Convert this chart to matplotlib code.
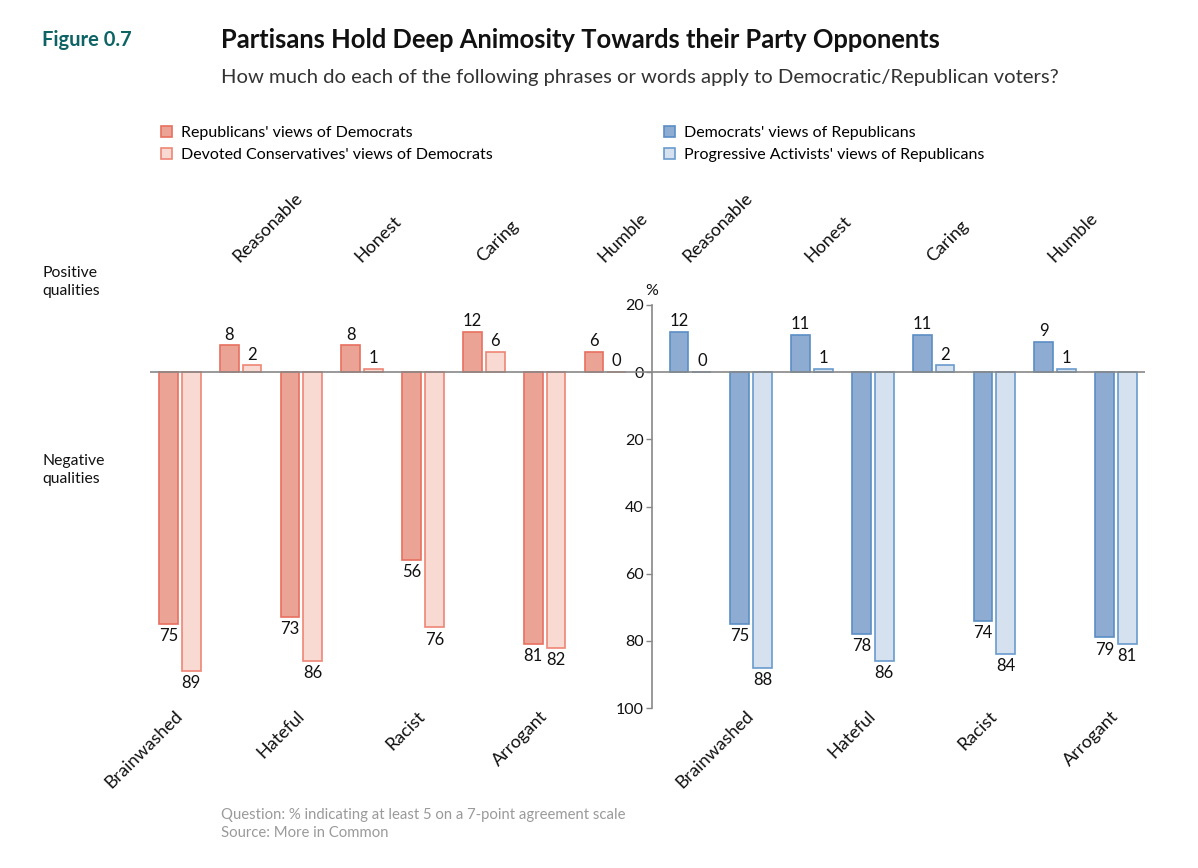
import matplotlib
matplotlib.use("Agg")
import matplotlib.pyplot as plt
from matplotlib.patches import Patch
from matplotlib.transforms import blended_transform_factory

plt.rcParams['font.family'] = ['Lato', 'DejaVu Sans']

# ---------------- data ----------------
positive_qualities = ["Reasonable", "Honest", "Caring", "Humble"]

left_categories = ["Brainwashed", "Reasonable", "Hateful", "Honest",
                   "Racist", "Caring", "Arrogant", "Humble"]
rep_views_of_dems = [75, 8, 73, 8, 56, 12, 81, 6]
devcons_views_of_dems = [89, 2, 86, 1, 76, 6, 82, 0]

right_categories = ["Reasonable", "Brainwashed", "Honest", "Hateful",
                    "Caring", "Racist", "Humble", "Arrogant"]
dem_views_of_reps = [12, 75, 11, 78, 11, 74, 9, 79]
progact_views_of_reps = [0, 88, 1, 86, 2, 84, 1, 81]

y_ticks = [20, 0, -20, -40, -60, -80, -100]
y_tick_labels = ["20", "0", "20", "40", "60", "80", "100"]

legend_left = ["Republicans' views of Democrats",
               "Devoted Conservatives' views of Democrats"]
legend_right = ["Democrats' views of Republicans",
                "Progressive Activists' views of Republicans"]

# ---------------- style ----------------
RED_DARK, RED_DARK_EDGE = "#EBA396", "#E8705F"
RED_LIGHT, RED_LIGHT_EDGE = "#F8DAD3", "#EE8575"
BLUE_DARK, BLUE_DARK_EDGE = "#8EACD1", "#5B8EC4"
BLUE_LIGHT, BLUE_LIGHT_EDGE = "#D6E1F0", "#6A9BCD"
TEAL = "#0E6465"
GRAY = "#888888"

W, H = 1198, 868
fig = plt.figure(figsize=(W / 100, H / 100), dpi=100)


def fx(px):
    return px / W


def fy(py):
    return 1 - py / H


ax_left, ax_right, ax_top, ax_bot = 150, 1145, 305, 708
ax = fig.add_axes([fx(ax_left), fy(ax_bot), fx(ax_right - ax_left), (ax_bot - ax_top) / H])

BW = 0.31      # bar width
OFF = 0.375    # offset of second bar
RIGHT_START = 8.4
AXIS_X = 8.11


def signed(cats, vals):
    return [v if c in positive_qualities else -v for c, v in zip(cats, vals)]


groups = [
    (0.0, left_categories, rep_views_of_dems, devcons_views_of_dems,
     (RED_DARK, RED_DARK_EDGE), (RED_LIGHT, RED_LIGHT_EDGE)),
    (RIGHT_START, right_categories, dem_views_of_reps, progact_views_of_reps,
     (BLUE_DARK, BLUE_DARK_EDGE), (BLUE_LIGHT, BLUE_LIGHT_EDGE)),
]

tr_top = blended_transform_factory(ax.transData, ax.transAxes)

for start, cats, v1, v2, c1, c2 in groups:
    xs = [start + i for i in range(len(cats))]
    s1 = signed(cats, v1)
    s2 = signed(cats, v2)
    x1 = [x + BW / 2 for x in xs]
    x2 = [x + OFF + BW / 2 for x in xs]
    ax.bar(x1, s1, width=BW, color=c1[0], edgecolor=c1[1], linewidth=1.2, zorder=3)
    ax.bar(x2, s2, width=BW, color=c2[0], edgecolor=c2[1], linewidth=1.2, zorder=3)
    for xx, ss, vv in list(zip(x1, s1, v1)) + list(zip(x2, s2, v2)):
        if ss >= 0:
            ax.annotate(str(vv), (xx, ss), xytext=(0, 2), textcoords="offset points",
                        ha="center", va="bottom", fontsize=12, color="#111111")
        else:
            ax.annotate(str(vv), (xx, ss), xytext=(0, -3), textcoords="offset points",
                        ha="center", va="top", fontsize=12, color="#111111")
    for x, c in zip(xs, cats):
        if c in positive_qualities:
            ax.text(x + 0.36, 1.10, c, transform=tr_top, rotation=45,
                    rotation_mode="anchor", ha="left", va="bottom",
                    fontsize=13, color="#111111", clip_on=False)
        else:
            ax.text(x + 0.25, 0.0, c, transform=tr_top, rotation=45,
                    rotation_mode="anchor", ha="right", va="top",
                    fontsize=13, color="#111111", clip_on=False)

ax.axhline(0, color=GRAY, lw=1.2, zorder=4)
ax.set_xlim(-0.148, 16.22)
ax.set_ylim(-100, 20)

for s in ["top", "right", "bottom"]:
    ax.spines[s].set_visible(False)
ax.spines["left"].set_position(("data", AXIS_X))
ax.spines["left"].set_color(GRAY)
ax.spines["left"].set_linewidth(1.2)
ax.set_xticks([])
ax.set_yticks(y_ticks)
ax.set_yticklabels(y_tick_labels)
ax.tick_params(axis="y", length=4, width=1.0, color=GRAY, labelsize=11.5, pad=2,
               labelcolor="#111111")
ax.annotate("%", (AXIS_X, 20), xytext=(0, 5), textcoords="offset points",
            ha="center", va="bottom", fontsize=11.5, color="#111111",
            annotation_clip=False)
ax.patch.set_alpha(0)

# ---------------- texts ----------------
fig.text(fx(42), fy(40), "Figure 0.7", fontsize=14.5, fontweight="bold",
         color=TEAL, va="center", ha="left")
fig.text(fx(221), fy(40), "Partisans Hold Deep Animosity Towards their Party Opponents",
         fontsize=18.4, fontweight="bold", color="#111111", va="center", ha="left")
fig.text(fx(221), fy(77), "How much do each of the following phrases or words apply to "
         "Democratic/Republican voters?", fontsize=14.6,
         color="#333333", va="center", ha="left")

fig.text(fx(42), fy(282), "Positive\nqualities", fontsize=11.3, color="#111111",
         va="center", ha="left", linespacing=1.35)
fig.text(fx(42), fy(470), "Negative\nqualities", fontsize=11.3, color="#111111",
         va="center", ha="left", linespacing=1.35)

fig.text(fx(221), fy(815), "Question: % indicating at least 5 on a 7-point agreement scale",
         fontsize=10.7, color="#9a9a9a", va="center", ha="left")
fig.text(fx(221), fy(833), "Source: More in Common",
         fontsize=10.7, color="#9a9a9a", va="center", ha="left")

# legends
leg_kw = dict(frameon=False, fontsize=11.5, handlelength=0.7, handleheight=0.7,
              handletextpad=0.55, labelspacing=0.5, borderaxespad=0, borderpad=0)
h_left = [Patch(facecolor=RED_DARK, edgecolor=RED_DARK_EDGE, lw=1.2),
          Patch(facecolor=RED_LIGHT, edgecolor=RED_LIGHT_EDGE, lw=1.2)]
h_right = [Patch(facecolor=BLUE_DARK, edgecolor=BLUE_DARK_EDGE, lw=1.2),
           Patch(facecolor=BLUE_LIGHT, edgecolor=BLUE_LIGHT_EDGE, lw=1.2)]
l1 = fig.legend(h_left, legend_left, loc="upper left",
                bbox_to_anchor=(fx(161), fy(126)), **leg_kw)
l2 = fig.legend(h_right, legend_right, loc="upper left",
                bbox_to_anchor=(fx(664), fy(126)), **leg_kw)

fig.savefig("out.png", dpi=100)
